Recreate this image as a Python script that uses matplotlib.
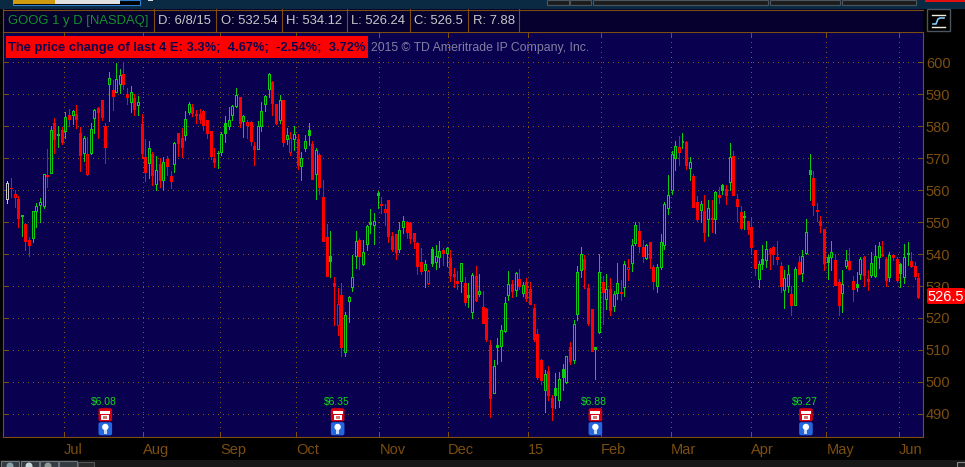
import matplotlib
matplotlib.use('Agg')
import matplotlib.pyplot as plt
from matplotlib.patches import Rectangle, FancyBboxPatch, Circle

### chart values
opens = [557.2,560.7,557.7,557.2,552.3,549.5,544.5,544.9,553.6,555.2,
    554.9,564.7,565.2,581.0,577.6,578.9,578.3,583.5,583.4,583.9,
    577.8,571.5,565.1,571.7,582.4,585.7,588.2,580.0,593.0,591.4,
    590.6,593.0,596.3,590.1,587.4,588.8,586.6,580.7,570.4,568.6,
    571.4,561.8,568.2,563.2,569.7,564.5,568.0,577.8,576.2,577.1,
    584.5,586.0,583.7,583.9,584.7,582.0,578.5,570.1,571.7,571.8,
    580.9,579.9,583.6,586.4,589.2,581.5,580.2,581.4,573.9,572.8,
    579.9,586.8,591.5,593.9,587.0,581.8,588.0,575.8,571.9,576.1,
    576.0,567.4,573.0,578.9,574.5,564.9,571.0,557.9,545.2,539.4,
    530.9,517.9,527.3,509.4,525.2,529.6,539.3,544.5,536.8,543.0,
    550.1,549.0,559.1,555.7,553.1,557.0,545.7,546.4,541.5,548.3,
    550.1,549.8,546.7,543.5,537.6,534.9,531.0,541.6,537.4,539.0,
    541.3,540.4,538.9,533.9,531.6,531.7,531.0,527.2,522.0,533.2,
    527.6,523.5,522.9,511.7,496.7,511.6,511.4,515.8,527.1,530.7,
    528.6,532.3,527.9,531.4,529.2,523.2,515.1,507.0,497.6,503.5,
    495.1,498.2,494.5,504.2,499.9,511.0,507.0,521.4,534.9,538.5,
    529.5,522.9,511.0,515.5,531.3,526.0,529.2,523.6,527.9,528.2,
    529.7,535.2,537.1,543.3,547.3,542.3,538.8,543.6,536.0,530.0,
    535.9,542.8,554.3,559.9,570.1,571.8,575.4,575.0,566.8,564.5,
    556.4,553.7,553.5,551.1,551.4,551.1,558.4,561.7,560.3,562.4,
    570.7,557.3,553.2,552.0,550.4,548.5,541.1,532.1,538.3,538.2,
    541.7,542.3,538.4,536.4,528.6,529.9,527.6,524.1,537.5,534.1,
    540.4,566.4,563.9,553.9,550.3,547.9,539.1,539.1,538.2,531.3,
    527.8,536.4,537.9,531.6,530.6,533.7,539.1,532.2,533.3,533.1,
    539.0,540.1,538.5,532.7,539.7,538.5,537.0,532.8,540.3,537.9,
    536.4,532.54]
highs = [562.9,563.8,560.0,558.2,552.3,549.7,545.3,553.4,555.9,557.5,
    565.0,572.9,580.1,582.6,580.1,579.8,584.5,585.3,585.1,586.7,
    579.8,577.0,576.6,580.9,585.3,586.0,588.3,580.9,597.0,594.5,
    599.7,597.9,599.7,592.0,592.6,590.0,589.4,583.9,575.9,575.4,
    572.0,570.7,570.1,570.3,570.7,566.0,575.1,577.8,579.4,584.8,
    587.6,587.0,584.9,585.3,585.1,582.0,578.5,573.2,572.3,578.0,
    583.2,586.1,586.7,592.0,589.2,583.5,582.0,581.7,575.1,581.7,
    587.6,589.8,596.7,594.1,587.0,589.8,588.2,579.4,578.2,580.1,
    577.6,571.9,577.2,580.9,575.3,573.0,571.6,563.2,549.5,547.3,
    532.9,529.5,531.0,522.0,526.9,539.8,547.3,545.0,544.5,549.1,
    554.2,552.9,559.8,557.8,555.7,557.0,547.0,546.4,549.9,552.0,
    550.4,550.1,546.7,543.9,541.9,538.2,535.1,542.3,542.9,544.2,
    541.9,542.2,541.4,535.7,534.8,537.3,532.9,531.0,534.2,536.3,
    533.9,528.5,523.2,513.2,507.0,513.9,517.9,526.7,534.8,532.0,
    534.5,535.4,531.4,532.6,531.4,524.5,516.7,507.3,503.6,505.1,
    496.0,502.9,503.2,505.7,508.2,512.6,519.5,536.3,542.3,539.8,
    530.7,522.9,511.0,540.1,533.2,533.6,532.5,528.3,537.2,532.0,
    537.9,538.4,544.7,550.0,550.0,544.5,543.2,543.9,536.7,536.9,
    546.3,556.3,564.8,572.3,575.4,577.0,577.8,575.2,570.3,565.1,
    558.2,556.5,558.5,557.0,556.8,559.6,560.9,562.0,561.7,574.8,
    572.3,558.9,555.1,553.5,550.4,551.4,541.1,537.7,542.8,544.2,
    542.0,542.6,544.2,537.6,535.1,536.7,530.1,536.0,539.3,541.1,
    551.0,571.4,566.0,555.9,551.8,547.9,539.7,544.2,540.0,532.2,
    535.0,541.4,542.0,533.2,534.5,539.2,539.5,535.1,540.7,542.8,
    543.7,544.1,539.2,540.7,540.1,539.2,537.2,543.2,543.6,540.7,
    537.6,534.12]
lows = [555.8,557.7,554.8,548.3,545.5,541.3,539.3,543.9,548.3,550.1,
    554.3,560.8,565.2,571.7,573.5,574.4,576.4,579.9,580.7,579.5,
    566.0,569.2,564.8,571.4,577.9,576.4,582.0,568.6,581.7,585.1,
    590.5,590.4,591.7,587.0,584.5,583.3,583.5,569.9,562.7,563.9,
    561.7,559.9,561.1,560.1,564.8,560.7,565.5,570.7,570.4,575.7,
    583.9,583.0,581.1,580.9,578.8,576.4,569.7,567.1,566.9,571.0,
    574.9,579.2,581.8,586.1,579.7,576.7,576.2,574.2,567.9,572.7,
    578.6,584.8,589.2,583.3,580.7,580.9,573.8,574.5,571.1,572.6,
    566.7,563.2,572.3,574.1,563.4,557.3,558.9,544.0,533.0,532.9,
    517.9,514.8,508.2,508.0,518.9,528.5,535.7,535.4,536.7,541.4,
    546.7,543.2,554.5,552.9,549.2,543.9,540.9,538.5,540.7,546.6,
    545.1,543.4,542.0,533.9,533.7,529.8,530.7,536.4,535.4,535.8,
    536.7,536.4,531.7,529.7,529.2,528.2,524.2,523.5,520.1,525.4,
    527.0,518.5,512.9,488.9,496.6,505.5,506.7,515.7,525.7,526.7,
    527.0,529.2,527.0,525.4,524.4,512.9,501.0,499.5,490.7,494.5,
    488.2,492.0,492.3,497.6,499.7,505.7,506.0,519.5,532.9,529.5,
    517.9,509.8,501.0,515.4,518.2,522.8,521.0,522.1,526.0,525.7,
    526.8,532.0,534.6,542.9,540.7,537.4,538.4,535.7,529.1,528.0,
    535.2,541.5,552.6,558.7,566.4,567.9,573.1,566.7,563.2,554.6,
    550.2,550.1,544.0,545.7,546.8,546.7,555.9,558.9,555.5,560.1,
    558.4,550.4,547.9,547.9,546.4,540.1,533.4,529.6,535.4,536.0,
    535.4,537.0,536.9,528.2,523.0,528.1,520.8,524.0,533.6,531.7,
    540.1,557.0,552.2,550.3,546.8,534.9,532.2,534.9,530.3,520.8,
    521.8,535.7,535.1,525.2,528.5,532.3,530.1,528.6,532.9,532.8,
    535.6,539.5,529.9,531.6,538.0,531.4,529.6,530.9,536.7,536.0,
    532.3,526.24]
closes = [562.2,560.5,558.8,551.2,551.8,544.2,542.9,553.4,555.0,556.2,
    565.0,564.5,578.9,575.9,577.1,575.1,582.9,582.3,584.8,582.1,
    571.0,576.4,571.3,579.1,585.0,584.5,582.7,573.5,595.0,589.3,
    594.7,595.9,593.3,589.0,590.6,585.4,587.5,571.5,565.7,573.1,
    564.8,566.2,563.2,568.7,567.6,562.7,574.7,574.6,573.3,582.2,
    586.9,584.1,583.3,582.3,580.2,577.7,570.7,568.9,571.5,577.6,
    577.7,581.9,586.2,589.8,580.8,583.1,581.3,575.4,572.9,580.0,
    584.7,589.4,596.3,587.2,581.0,588.0,574.9,577.2,576.4,577.5,
    567.9,570.0,575.3,577.3,563.5,572.5,560.8,544.0,533.0,537.7,
    529.9,524.4,511.0,520.9,526.6,532.8,544.1,539.5,540.6,548.9,
    549.3,550.3,558.6,555.2,554.1,545.7,541.7,540.7,547.5,550.2,
    547.0,545.1,544.2,536.4,534.7,536.9,534.7,537.3,539.4,540.9,
    540.2,541.9,533.5,533.2,531.0,537.2,525.1,526.7,533.4,525.7,
    528.4,518.5,513.5,495.1,505.1,510.9,516.4,524.7,530.6,528.5,
    534.2,530.0,530.3,526.1,524.5,513.5,501.7,500.7,502.6,496.0,
    492.3,496.0,500.9,501.7,508.2,506.7,518.2,534.4,540.1,535.2,
    518.4,509.8,510.4,534.5,528.2,529.1,522.6,527.6,530.9,527.7,
    536.9,535.9,542.8,549.1,542.5,539.5,542.8,538.9,531.7,535.9,
    543.8,555.6,558.4,571.3,573.8,573.3,574.9,567.7,568.8,554.8,
    551.1,555.6,547.0,554.4,550.9,559.4,557.9,560.1,558.5,570.4,
    558.5,555.1,548.2,551.5,547.9,542.3,535.5,536.9,537.0,541.7,
    540.2,539.9,539.1,530.1,532.5,533.8,524.0,535.4,533.9,539.5,
    546.9,564.9,555.2,553.3,549.0,537.1,537.6,540.6,530.4,524.0,
    530.6,538.1,535.4,529.0,529.7,538.4,533.5,531.7,537.2,539.5,
    542.5,539.7,532.0,539.8,539.1,532.0,534.0,539.2,539.9,536.4,
    533.2,526.5]

month_pos = [15.6, 37.5, 58.7, 79.6, 102.5, 121.4, 143.5, 163.6, 182.8, 204.8, 225.6, 245.7]
month_labels = ['Jul', 'Aug', 'Sep', 'Oct', 'Nov', 'Dec', '15', 'Feb', 'Mar', 'Apr', 'May', 'Jun']
price_ticks = [490, 500, 510, 520, 530, 540, 550, 560, 570, 580, 590, 600]

earn_bars = [27, 91, 162, 220]
earn_labels = ['$6.08', '$6.35', '$6.88', '$6.27']

header_items = ['D: 6/8/15', 'O: 532.54', 'H: 534.12', 'L: 526.24', 'C: 526.5', 'R: 7.88']
header_x = [158, 221, 286, 351, 414, 473]
header_sep = [3, 154, 216, 282, 347, 410, 468, 519]

### colours
BG = '#0a0050'
BROWN = '#7c4e10'
RED = '#ff0000'
GREEN = '#0ccc10'
GREY = '#c4c4c4'

plt.rcParams['font.family'] = ['Liberation Sans', 'DejaVu Sans']

fig = plt.figure(figsize=(9.65, 4.67), dpi=100, facecolor='black')
W, H = 965.0, 467.0

# plot area is x 3..923, y 32..437 in pixels
ax = fig.add_axes([3 / W, 1 - 437 / H, 920 / W, 405 / H], facecolor=BG, zorder=1)
ax.set_xlim(-1.18, 252.25)
ax.set_ylim(482.8, 609.4)

#### grid and ticks
ax.set_yticks(price_ticks)
ax.set_xticks(month_pos)
ax.set_xticklabels(month_labels, ha='left')
ax.grid(True, color='#8a5a14', linewidth=0.72, linestyle=(0, (1, 5)), antialiased=False)
ax.set_axisbelow(True)
ax.tick_params(axis='y', direction='in', length=3.6, width=0.72, color=BROWN, labelcolor=BROWN,
               labelsize=10.5, left=True, right=True, labelleft=False, labelright=True, pad=2)
ax.tick_params(axis='x', direction='in', length=3.6, width=0.72, color=BROWN, labelcolor=BROWN,
               labelsize=10.5, top=True, bottom=True, pad=4)
for s in ax.spines.values():
    s.set_color(BROWN)
    s.set_linewidth(0.8)

#### candles: hollow when close > open, green when close >= previous close
for i in range(len(closes)):
    if i == 0:
        col = GREY
    elif closes[i] >= closes[i - 1]:
        col = GREEN
    else:
        col = RED
    ax.vlines(i, lows[i], highs[i], color=col, linewidth=0.7, antialiased=False, zorder=3)
    low_body = min(opens[i], closes[i])
    body_h = abs(closes[i] - opens[i])
    hollow = closes[i] > opens[i]
    ax.bar(i, body_h, bottom=low_body, width=0.55, facecolor=BG if hollow else col,
           edgecolor=col, linewidth=0.7, antialiased=False, zorder=4)

#### everything around the chart goes on a pixel overlay
ui = fig.add_axes([0, 0, 1, 1], zorder=2)
ui.set_xlim(0, W)
ui.set_ylim(H, 0)
ui.axis('off')


def box(x0, y0, x1, y1, color, z=5, **kw):
    ui.add_patch(Rectangle((x0, y0), x1 - x0, y1 - y0, facecolor=color, edgecolor=kw.get('ec', 'none'),
                           linewidth=kw.get('lw', 0), zorder=z))


def px(i, price=0):
    # bar index / price to overlay pixels
    dx, dy = ax.transData.transform((i, price))
    return dx, H - dy


# top strip
box(0, 0, W, 9, '#0a2a44')
box(13, 0, 140, 4.5, 'black', ec='#2f7fd0', lw=0.8, z=6)
box(13, 0, 55, 4, '#cf9a10', z=7)
box(55, 0, 120, 4, '#e0e0e0', z=7)
box(148, 0, 153, 1, '#dddddd', z=7)
for x0, x1 in [(547, 569), (570, 591), (593, 768), (770, 840), (842, 916)]:
    box(x0, 0, x1, 5, '#1c1c1c', ec='#4a5560', lw=0.8)
box(925, 0, 965, 1.5, '#e01010')

# header row
box(3, 9, 923, 32, '#05002e')
ui.plot([3, 923], [9.5, 9.5], color=BROWN, linewidth=0.8, zorder=6)
for x in header_sep:
    ui.plot([x, x], [9, 32], color=BROWN, linewidth=0.8, zorder=6)
ui.text(8, 21, 'GOOG 1 y D [NASDAQ]', color='#12922a', fontsize=9.4, va='center', zorder=7)
for x, t in zip(header_x, header_items):
    ui.text(x, 21, t, color='#c8c8c8', fontsize=9.4, va='center', zorder=7)

# study label
box(6, 36, 368, 58, RED, z=6)
ui.text(8, 48, 'The price change of last 4 E: 3.3%;  4.67%;  -2.54%;  3.72%', color='#0a0050',
        fontsize=9.3, fontweight='bold', va='center', zorder=7)
ui.text(371, 48, '2015 \u00a9 TD Ameritrade IP Company, Inc.', color='#8080a0', fontsize=8.8, va='center', zorder=7)

# earnings markers
for b, lab in zip(earn_bars, earn_labels):
    xc, _ = px(b)
    ui.text(xc - 1, 402.5, lab, color='#10d818', fontsize=7.5, ha='center', va='center', zorder=7)
    ui.add_patch(FancyBboxPatch((xc - 6, 409), 12, 11.5, boxstyle='round,pad=0.8,rounding_size=2',
                                facecolor='#d80010', edgecolor='none', zorder=6))
    box(xc - 4, 415, xc + 4, 420, 'white', z=7)
    box(xc - 5, 411, xc + 5, 413.5, 'white', z=7)
    box(xc - 2, 416, xc + 2, 419, '#d87070', z=8)
    ui.add_patch(FancyBboxPatch((xc - 6, 423), 12, 11.5, boxstyle='round,pad=0.8,rounding_size=2',
                                facecolor='#2468e0', edgecolor='none', zorder=6))
    ui.add_patch(Circle((xc, 427), 3.2, facecolor='white', edgecolor='none', zorder=7))
    box(xc - 1.5, 430, xc + 1.5, 434, '#c8d8f0', z=7)

# last price tag
_, ytag = px(0, closes[-1])
ui.add_patch(FancyBboxPatch((928, 289), 36, 14, boxstyle='round,pad=1,rounding_size=2',
                            facecolor=RED, edgecolor='none', zorder=7))
ui.text(945.5, ytag - 0.5, str(closes[-1]), color='white', fontsize=10.5, ha='center', va='center', zorder=8)

# study button, top right
box(927, 9, 949.5, 31, 'black', ec='#4a5560', lw=1)
ui.plot([932, 945], [14.5, 14.5], color='#f0f0e0', linewidth=1, zorder=7)
ui.plot([932, 945], [26.5, 26.5], color='#f0f0e0', linewidth=1, zorder=7)
ui.plot([933, 936, 938, 940, 944], [24, 24, 19, 18, 18], color='#80c8f8', linewidth=1.2, zorder=7)

# bottom toolbar
box(0, 460, W, 467, '#181818')
for x0 in [1, 21, 40, 59]:
    box(x0, 461, x0 + 18, 467, '#333a40', ec='#6a7680', lw=0.8)
box(78, 462, 94, 467, '#2a2a2a', ec='#555555', lw=0.8)
ui.add_patch(Circle((10, 466), 3.5, facecolor='#8aa0a8', edgecolor='none', zorder=7))
ui.add_patch(Circle((29, 466), 3.5, facecolor='#c8d8d8', edgecolor='none', zorder=7))
ui.add_patch(Circle((48, 466), 3.5, facecolor='#909898', edgecolor='none', zorder=7))
box(957, 462, W, 467, '#222222', ec='#888888', lw=0.8)

fig.savefig('out.png', dpi=100, facecolor='black')
